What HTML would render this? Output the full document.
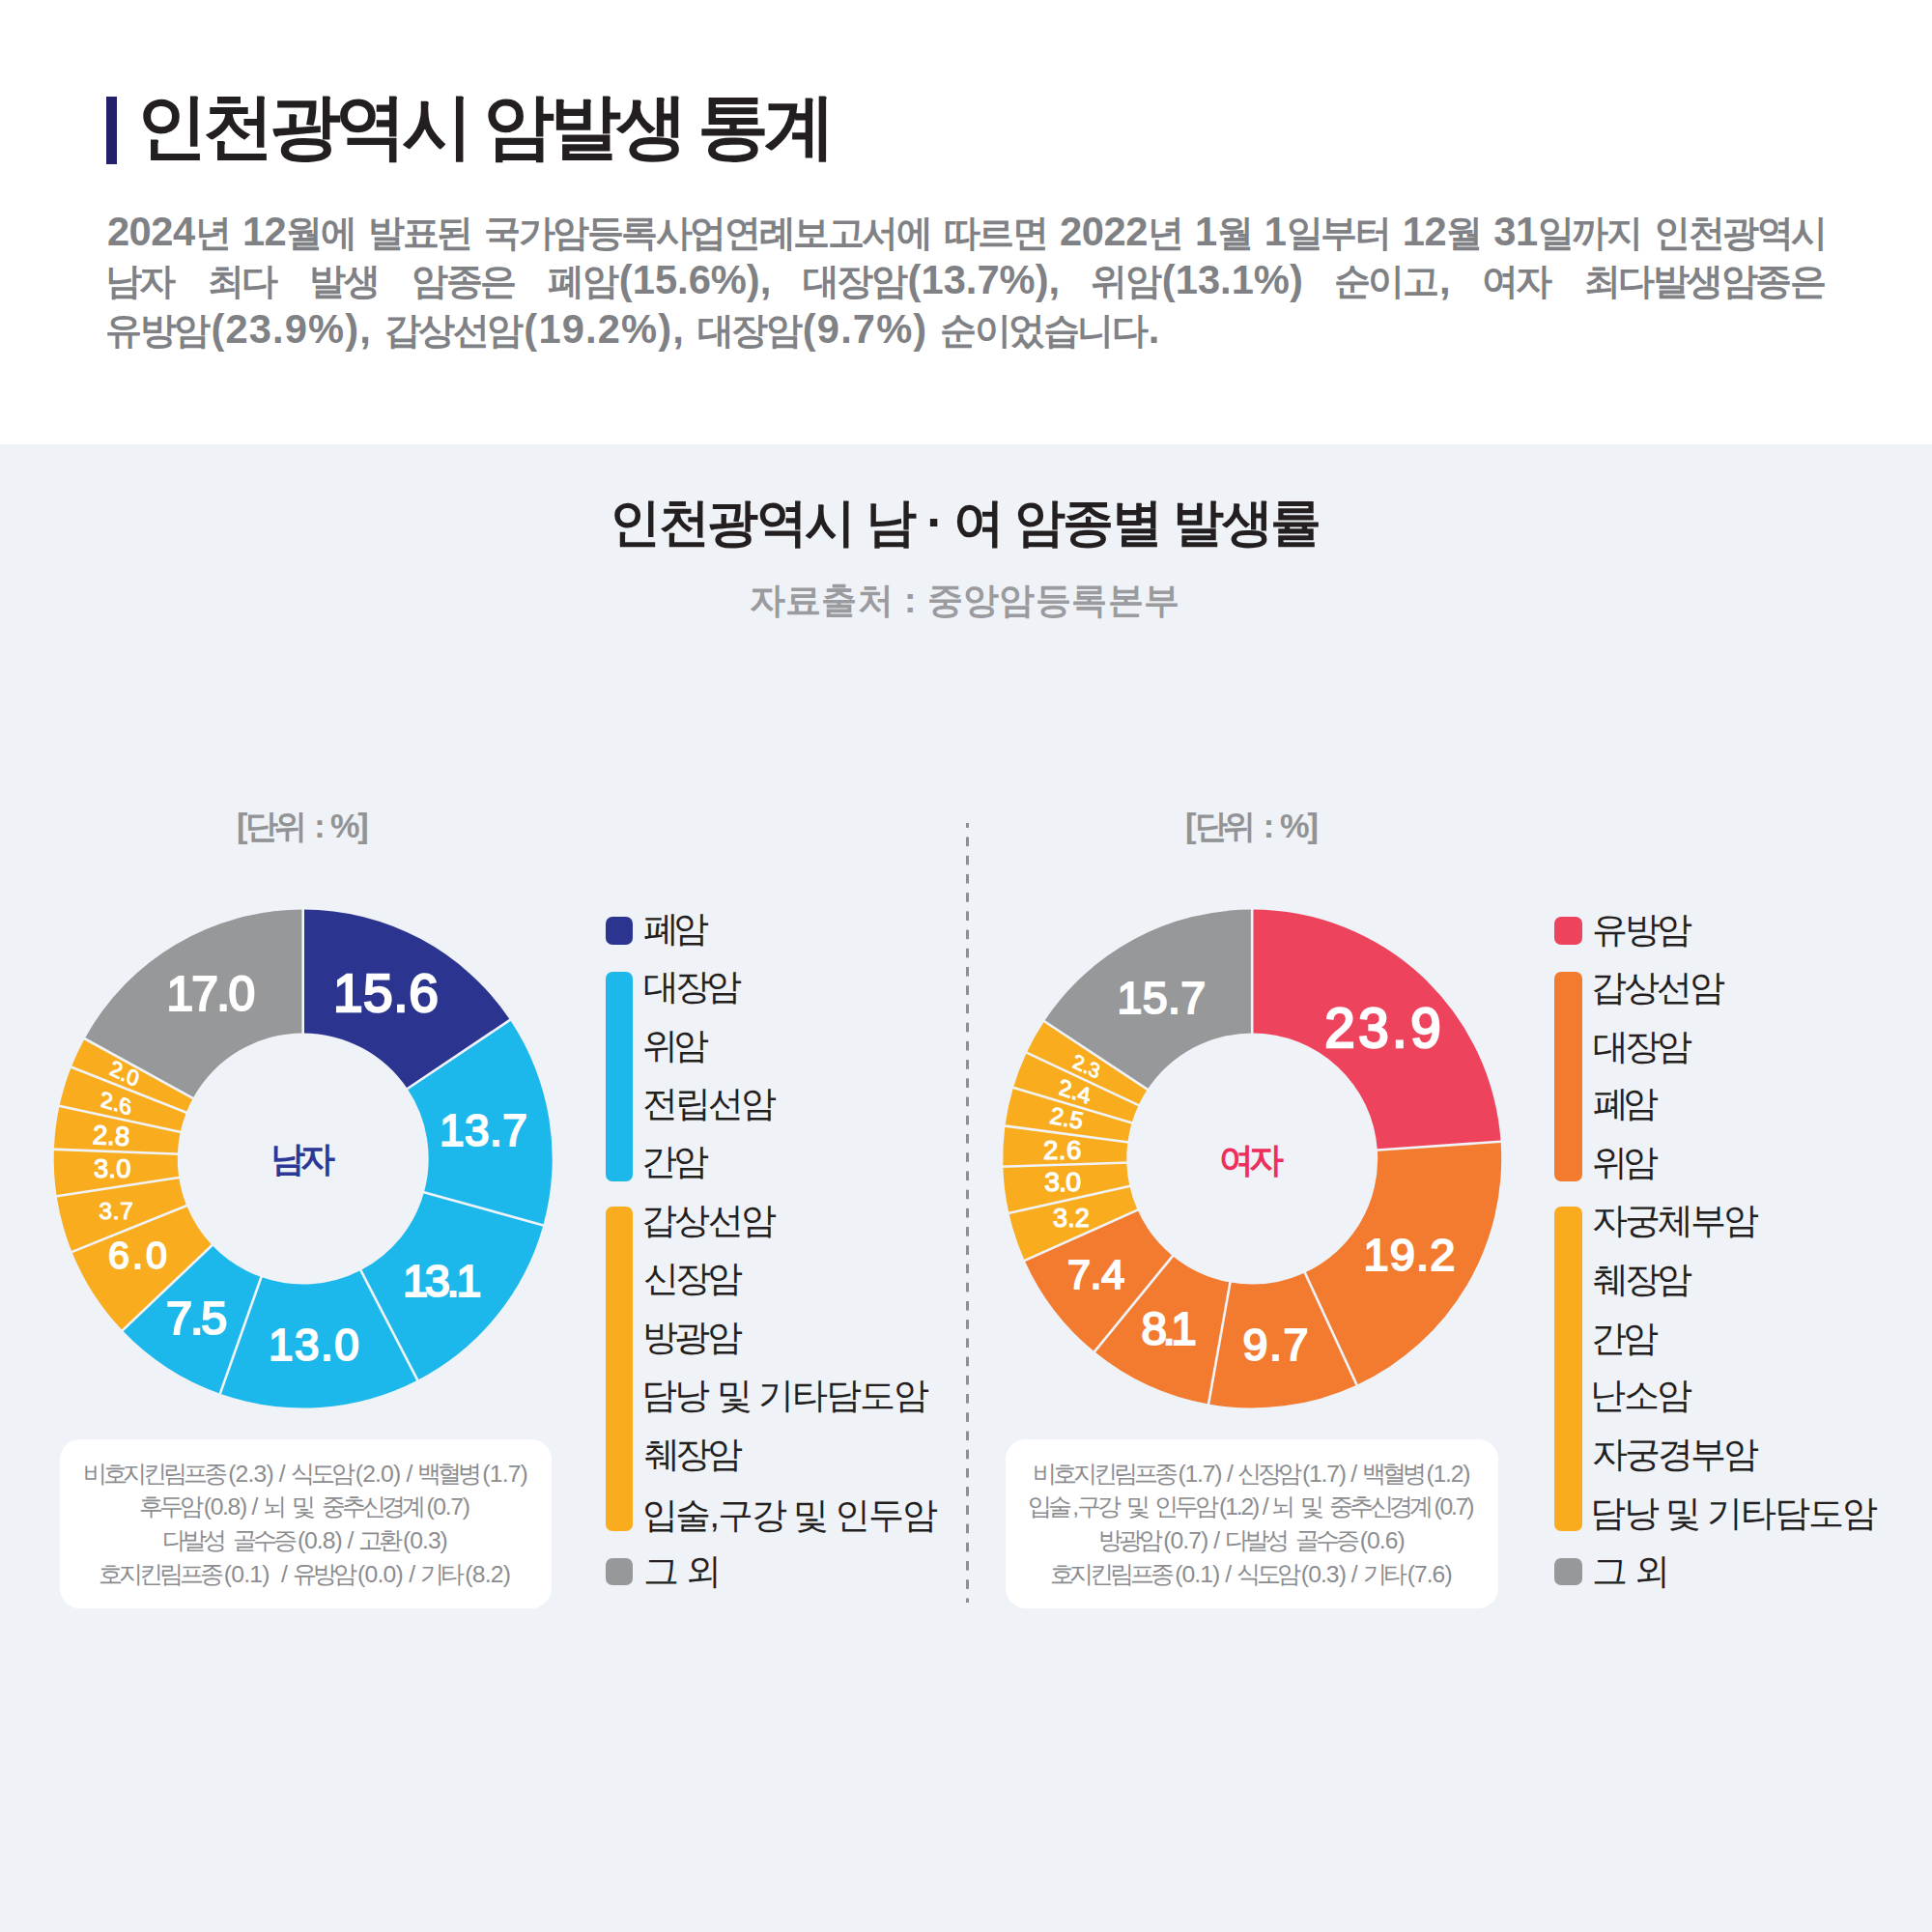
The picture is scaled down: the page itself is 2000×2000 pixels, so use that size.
<!DOCTYPE html>
<html><head><meta charset="utf-8">
<style>
*{margin:0;padding:0;box-sizing:border-box}
html,body{width:2000px;height:2000px;overflow:hidden;background:#fff}
body{position:relative;font-family:"Liberation Sans",sans-serif}
#bg{position:absolute;left:0;top:460px;width:2000px;height:1540px;background:#EFF2F7}
#bar{position:absolute;left:110px;top:100px;width:11px;height:70px;background:#231F6B}
svg{position:absolute;left:0;top:0}
.sw{position:absolute;width:28.5px;border-radius:7px}
.note{position:absolute;top:1489.7px;height:175.4px;background:#fff;border-radius:21px}
.t{position:absolute;white-space:pre;line-height:1}
</style></head><body>
<div id="bg"></div>
<div id="bar"></div>
<div style="position:absolute;left:1000.3px;top:851.5px;width:2.7px;height:807.5px;background:repeating-linear-gradient(to bottom,#8D8F92 0,#8D8F92 9.7px,transparent 9.7px,transparent 19.2275px);background-size:100% 19.2275px;background-position:0 -4.73px"></div>
<div class="sw" style="left:626.5px;top:949px;height:28.5px;background:#2B358F"></div>
<div class="sw" style="left:626.5px;top:1006px;height:216.5px;background:#1CB8EB"></div>
<div class="sw" style="left:626.5px;top:1248.5px;height:336px;background:#F9AC1D"></div>
<div class="sw" style="left:626.5px;top:1612.5px;height:28.5px;background:#97989A"></div>
<div class="sw" style="left:1609px;top:949px;height:28.5px;background:#EE435D"></div>
<div class="sw" style="left:1609px;top:1006px;height:216.5px;background:#F27B30"></div>
<div class="sw" style="left:1609px;top:1248.5px;height:336px;background:#F9AC1D"></div>
<div class="sw" style="left:1609px;top:1612.5px;height:28.5px;background:#97989A"></div>
<div class="note" style="left:61.7px;width:509.4px"></div>
<div class="note" style="left:1040.5px;width:510.2px"></div>
<svg width="2000" height="2000" viewBox="0 0 2000 2000"><g>
<path d="M313.70,941.50A258,258 0 0 1 527.99,1055.83L421.68,1127.11A130,130 0 0 0 313.70,1069.50Z" fill="#2B358F"/>
<path d="M527.99,1055.83A258,258 0 0 1 562.34,1268.36L438.98,1234.20A130,130 0 0 0 421.68,1127.11Z" fill="#1CB8EB"/>
<path d="M562.34,1268.36A258,258 0 0 1 432.27,1428.64L373.45,1314.96A130,130 0 0 0 438.98,1234.20Z" fill="#1CB8EB"/>
<path d="M432.27,1428.64A258,258 0 0 1 227.83,1442.79L270.43,1322.09A130,130 0 0 0 373.45,1314.96Z" fill="#1CB8EB"/>
<path d="M227.83,1442.79A258,258 0 0 1 126.74,1377.29L219.50,1289.08A130,130 0 0 0 270.43,1322.09Z" fill="#1CB8EB"/>
<path d="M126.74,1377.29A258,258 0 0 1 74.42,1295.98L193.13,1248.11A130,130 0 0 0 219.50,1289.08Z" fill="#F9AC1D"/>
<path d="M74.42,1295.98A258,258 0 0 1 58.63,1238.26L185.18,1219.03A130,130 0 0 0 193.13,1248.11Z" fill="#F9AC1D"/>
<path d="M58.63,1238.26A258,258 0 0 1 55.88,1189.78L183.79,1194.60A130,130 0 0 0 185.18,1219.03Z" fill="#F9AC1D"/>
<path d="M55.88,1189.78A258,258 0 0 1 61.56,1144.80L186.66,1171.94A130,130 0 0 0 183.79,1194.60Z" fill="#F9AC1D"/>
<path d="M61.56,1144.80A258,258 0 0 1 73.82,1104.52L192.83,1151.64A130,130 0 0 0 186.66,1171.94Z" fill="#F9AC1D"/>
<path d="M73.82,1104.52A258,258 0 0 1 87.61,1075.21L199.78,1136.87A130,130 0 0 0 192.83,1151.64Z" fill="#F9AC1D"/>
<path d="M87.61,1075.21A258,258 0 0 1 313.70,941.50L313.70,1069.50A130,130 0 0 0 199.78,1136.87Z" fill="#97989A"/>
<line x1="313.70" y1="1072.50" x2="313.70" y2="938.50" stroke="#F0F3F8" stroke-width="2.6"/>
<line x1="419.19" y1="1128.78" x2="530.49" y2="1054.16" stroke="#F0F3F8" stroke-width="2.6"/>
<line x1="436.09" y1="1233.40" x2="565.23" y2="1269.16" stroke="#F0F3F8" stroke-width="2.6"/>
<line x1="372.07" y1="1312.29" x2="433.65" y2="1431.30" stroke="#F0F3F8" stroke-width="2.6"/>
<line x1="271.43" y1="1319.26" x2="226.83" y2="1445.62" stroke="#F0F3F8" stroke-width="2.6"/>
<line x1="221.67" y1="1287.02" x2="124.57" y2="1379.36" stroke="#F0F3F8" stroke-width="2.6"/>
<line x1="195.91" y1="1246.99" x2="71.64" y2="1297.10" stroke="#F0F3F8" stroke-width="2.6"/>
<line x1="188.14" y1="1218.58" x2="55.66" y2="1238.71" stroke="#F0F3F8" stroke-width="2.6"/>
<line x1="186.79" y1="1194.71" x2="52.89" y2="1189.66" stroke="#F0F3F8" stroke-width="2.6"/>
<line x1="189.59" y1="1172.58" x2="58.63" y2="1144.17" stroke="#F0F3F8" stroke-width="2.6"/>
<line x1="195.62" y1="1152.75" x2="71.03" y2="1103.42" stroke="#F0F3F8" stroke-width="2.6"/>
<line x1="202.41" y1="1138.32" x2="84.98" y2="1073.76" stroke="#F0F3F8" stroke-width="2.6"/>
<path d="M1296.20,941.50A258,258 0 0 1 1553.58,1181.68L1425.89,1190.52A130,130 0 0 0 1296.20,1069.50Z" fill="#EE435D"/>
<path d="M1553.58,1181.68A258,258 0 0 1 1404.58,1433.63L1350.81,1317.47A130,130 0 0 0 1425.89,1190.52Z" fill="#F27B30"/>
<path d="M1404.58,1433.63A258,258 0 0 1 1251.04,1453.52L1273.45,1327.49A130,130 0 0 0 1350.81,1317.47Z" fill="#F27B30"/>
<path d="M1251.04,1453.52A258,258 0 0 1 1133.00,1399.32L1213.97,1300.19A130,130 0 0 0 1273.45,1327.49Z" fill="#F27B30"/>
<path d="M1133.00,1399.32A258,258 0 0 1 1060.73,1304.93L1177.55,1252.62A130,130 0 0 0 1213.97,1300.19Z" fill="#F27B30"/>
<path d="M1060.73,1304.93A258,258 0 0 1 1044.41,1255.78L1169.33,1227.86A130,130 0 0 0 1177.55,1252.62Z" fill="#F9AC1D"/>
<path d="M1044.41,1255.78A258,258 0 0 1 1038.33,1207.60L1166.26,1203.58A130,130 0 0 0 1169.33,1227.86Z" fill="#F9AC1D"/>
<path d="M1038.33,1207.60A258,258 0 0 1 1040.44,1165.56L1167.33,1182.40A130,130 0 0 0 1166.26,1203.58Z" fill="#F9AC1D"/>
<path d="M1040.44,1165.56A258,258 0 0 1 1048.90,1125.97L1171.59,1162.45A130,130 0 0 0 1167.33,1182.40Z" fill="#F9AC1D"/>
<path d="M1048.90,1125.97A258,258 0 0 1 1062.75,1089.65L1178.57,1144.15A130,130 0 0 0 1171.59,1162.45Z" fill="#F9AC1D"/>
<path d="M1062.75,1089.65A258,258 0 0 1 1081.01,1057.18L1187.77,1127.79A130,130 0 0 0 1178.57,1144.15Z" fill="#F9AC1D"/>
<path d="M1081.01,1057.18A258,258 0 0 1 1296.20,941.50L1296.20,1069.50A130,130 0 0 0 1187.77,1127.79Z" fill="#97989A"/>
<line x1="1296.20" y1="1072.50" x2="1296.20" y2="938.50" stroke="#F0F3F8" stroke-width="2.6"/>
<line x1="1422.90" y1="1190.73" x2="1556.58" y2="1181.48" stroke="#F0F3F8" stroke-width="2.6"/>
<line x1="1349.55" y1="1314.75" x2="1405.84" y2="1436.35" stroke="#F0F3F8" stroke-width="2.6"/>
<line x1="1273.97" y1="1324.54" x2="1250.52" y2="1456.47" stroke="#F0F3F8" stroke-width="2.6"/>
<line x1="1215.86" y1="1297.86" x2="1131.10" y2="1401.65" stroke="#F0F3F8" stroke-width="2.6"/>
<line x1="1180.29" y1="1251.40" x2="1057.99" y2="1306.16" stroke="#F0F3F8" stroke-width="2.6"/>
<line x1="1172.26" y1="1227.20" x2="1041.49" y2="1256.44" stroke="#F0F3F8" stroke-width="2.6"/>
<line x1="1169.26" y1="1203.49" x2="1035.33" y2="1207.70" stroke="#F0F3F8" stroke-width="2.6"/>
<line x1="1170.30" y1="1182.79" x2="1037.47" y2="1165.16" stroke="#F0F3F8" stroke-width="2.6"/>
<line x1="1174.47" y1="1163.30" x2="1046.03" y2="1125.11" stroke="#F0F3F8" stroke-width="2.6"/>
<line x1="1181.29" y1="1145.43" x2="1060.04" y2="1088.37" stroke="#F0F3F8" stroke-width="2.6"/>
<line x1="1190.27" y1="1129.44" x2="1078.51" y2="1055.52" stroke="#F0F3F8" stroke-width="2.6"/>
</g></svg>
<div class="t" id="title" style="left:141.00px;top:93.81px;font-size:73.87px;letter-spacing:-5.18px;font-weight:700;color:#231F20">인천광역시 암발생 통계</div>
<div class="t" id="p1" style="left:110.90px;top:219.21px;font-size:37.89px;letter-spacing:0.00px;font-weight:700;color:#808185"><span style="letter-spacing:-0.46px;font-size:41.68px">2024</span>년<span style="letter-spacing:-0.46px;font-size:41.68px"> 12</span><span style="letter-spacing:-2.46px">월</span>에<span style="letter-spacing:-0.46px;font-size:41.68px"> </span><span style="letter-spacing:-2.46px">발표</span>된<span style="letter-spacing:-0.46px;font-size:41.68px"> </span><span style="letter-spacing:-2.46px">국가암등록사업연례보고서</span>에<span style="letter-spacing:-0.46px;font-size:41.68px"> </span><span style="letter-spacing:-2.46px">따르</span>면<span style="letter-spacing:-0.46px;font-size:41.68px"> 2022</span>년<span style="letter-spacing:-0.46px;font-size:41.68px"> 1</span>월<span style="letter-spacing:-0.46px;font-size:41.68px"> 1</span><span style="letter-spacing:-2.46px">일부</span>터<span style="letter-spacing:-0.46px;font-size:41.68px"> 12</span>월<span style="letter-spacing:-0.46px;font-size:41.68px"> 31</span><span style="letter-spacing:-2.46px">일까</span>지<span style="letter-spacing:-0.46px;font-size:41.68px"> </span><span style="letter-spacing:-2.46px">인천광역</span>시</div>
<div class="t" id="p2" style="left:108.80px;top:269.00px;font-size:37.89px;letter-spacing:0.00px;font-weight:700;color:#808185;width:1782.0px;text-align:justify;text-align-last:justify"><span style="letter-spacing:-2.46px">남</span>자<span style="letter-spacing:0.00px;font-size:41.68px"> </span><span style="letter-spacing:-2.46px">최</span>다<span style="letter-spacing:0.00px;font-size:41.68px"> </span><span style="letter-spacing:-2.46px">발</span>생<span style="letter-spacing:0.00px;font-size:41.68px"> </span><span style="letter-spacing:-2.46px">암종</span>은<span style="letter-spacing:0.00px;font-size:41.68px"> </span><span style="letter-spacing:-2.46px">폐</span>암<span style="letter-spacing:0.00px;font-size:41.68px">(15.6%), </span><span style="letter-spacing:-2.46px">대장</span>암<span style="letter-spacing:0.00px;font-size:41.68px">(13.7%), </span><span style="letter-spacing:-2.46px">위</span>암<span style="letter-spacing:0.00px;font-size:41.68px">(13.1%) </span><span style="letter-spacing:-2.46px">순이</span>고<span style="letter-spacing:0.00px;font-size:41.68px">, </span><span style="letter-spacing:-2.46px">여</span>자<span style="letter-spacing:0.00px;font-size:41.68px"> </span><span style="letter-spacing:-2.46px">최다발생암종</span>은</div>
<div class="t" id="p3" style="left:109.30px;top:320.00px;font-size:37.89px;letter-spacing:0.00px;font-weight:700;color:#808185"><span style="letter-spacing:-2.46px">유방</span>암<span style="letter-spacing:1.14px;font-size:41.68px">(23.9%), </span><span style="letter-spacing:-2.46px">갑상선</span>암<span style="letter-spacing:1.14px;font-size:41.68px">(19.2%), </span><span style="letter-spacing:-2.46px">대장</span>암<span style="letter-spacing:1.14px;font-size:41.68px">(9.7%) </span><span style="letter-spacing:-2.46px">순이었습니</span>다<span style="letter-spacing:1.14px;font-size:41.68px">.</span></div>
<div class="t" id="ctitle" style="left:630.90px;top:515.02px;font-size:52.84px;letter-spacing:-2.37px;font-weight:700;color:#231F20">인천광역시 남 · 여 암종별 발생률</div>
<div class="t" id="csub" style="left:775.50px;top:602.58px;font-size:37.21px;letter-spacing:0.42px;font-weight:700;color:#9A9B9E">자료출처 : 중앙암등록본부</div>
<div class="t" id="unitL" style="left:245.00px;top:838.20px;font-size:34.35px;letter-spacing:0.00px;font-weight:700;color:#929395"><span style="letter-spacing:-2.13px;font-size:34.35px">[</span><span style="letter-spacing:-4.47px">단</span>위<span style="letter-spacing:-2.13px;font-size:34.35px"> : %]</span></div>
<div class="t" id="unitR" style="left:1227.00px;top:838.20px;font-size:34.35px;letter-spacing:0.00px;font-weight:700;color:#929395"><span style="letter-spacing:-1.88px;font-size:34.35px">[</span><span style="letter-spacing:-4.47px">단</span>위<span style="letter-spacing:-1.88px;font-size:34.35px"> : %]</span></div>
<div class="t" id="ctrM" style="left:279.60px;top:1183.30px;font-size:35.84px;letter-spacing:-4.90px;font-weight:700;color:#2B3896">남자</div>
<div class="t" id="ctrW" style="left:1262.00px;top:1183.50px;font-size:35.84px;letter-spacing:-4.69px;font-weight:700;color:#EE2F5E">여자</div>
<div class="t" id="L0" style="left:666.10px;top:942.70px;font-size:37.35px;letter-spacing:-5.92px;font-weight:400;color:#231F20">폐암</div>
<div class="t" id="L1" style="left:666.10px;top:1003.20px;font-size:37.35px;letter-spacing:-4.33px;font-weight:400;color:#231F20">대장암</div>
<div class="t" id="L2" style="left:665.10px;top:1063.60px;font-size:37.35px;letter-spacing:-4.94px;font-weight:400;color:#231F20">위암</div>
<div class="t" id="L3" style="left:665.10px;top:1123.50px;font-size:37.35px;letter-spacing:-3.08px;font-weight:400;color:#231F20">전립선암</div>
<div class="t" id="L4" style="left:664.10px;top:1184.00px;font-size:37.35px;letter-spacing:-3.96px;font-weight:400;color:#231F20">간암</div>
<div class="t" id="L5" style="left:664.10px;top:1244.70px;font-size:37.35px;letter-spacing:-2.75px;font-weight:400;color:#231F20">갑상선암</div>
<div class="t" id="L6" style="left:665.50px;top:1305.20px;font-size:37.35px;letter-spacing:-3.84px;font-weight:400;color:#231F20">신장암</div>
<div class="t" id="L7" style="left:664.50px;top:1366.10px;font-size:37.35px;letter-spacing:-3.36px;font-weight:400;color:#231F20">방광암</div>
<div class="t" id="L8" style="left:663.50px;top:1426.40px;font-size:37.35px;letter-spacing:-2.03px;font-weight:400;color:#231F20">담낭 및 기타담도암</div>
<div class="t" id="L9" style="left:666.50px;top:1486.80px;font-size:37.35px;letter-spacing:-4.33px;font-weight:400;color:#231F20">췌장암</div>
<div class="t" id="L10" style="left:664.50px;top:1549.50px;font-size:37.35px;letter-spacing:-2.03px;font-weight:400;color:#231F20">입술,구강 및 인두암</div>
<div class="t" id="L11" style="left:665.50px;top:1607.60px;font-size:37.35px;letter-spacing:-1.62px;font-weight:400;color:#231F20">그 외</div>
<div class="t" id="R0" style="left:1648.00px;top:943.50px;font-size:37.35px;letter-spacing:-3.44px;font-weight:400;color:#231F20">유방암</div>
<div class="t" id="R1" style="left:1647.00px;top:1004.00px;font-size:37.35px;letter-spacing:-3.15px;font-weight:400;color:#231F20">갑상선암</div>
<div class="t" id="R2" style="left:1649.00px;top:1064.90px;font-size:37.35px;letter-spacing:-3.93px;font-weight:400;color:#231F20">대장암</div>
<div class="t" id="R3" style="left:1649.00px;top:1123.90px;font-size:37.35px;letter-spacing:-5.72px;font-weight:400;color:#231F20">폐암</div>
<div class="t" id="R4" style="left:1648.00px;top:1184.80px;font-size:37.35px;letter-spacing:-4.73px;font-weight:400;color:#231F20">위암</div>
<div class="t" id="R5" style="left:1648.00px;top:1244.60px;font-size:37.35px;letter-spacing:-3.09px;font-weight:400;color:#231F20">자궁체부암</div>
<div class="t" id="R6" style="left:1649.00px;top:1305.80px;font-size:37.35px;letter-spacing:-3.83px;font-weight:400;color:#231F20">췌장암</div>
<div class="t" id="R7" style="left:1647.00px;top:1366.90px;font-size:37.35px;letter-spacing:-3.75px;font-weight:400;color:#231F20">간암</div>
<div class="t" id="R8" style="left:1646.00px;top:1426.00px;font-size:37.35px;letter-spacing:-2.36px;font-weight:400;color:#231F20">난소암</div>
<div class="t" id="R9" style="left:1648.00px;top:1487.20px;font-size:37.35px;letter-spacing:-3.09px;font-weight:400;color:#231F20">자궁경부암</div>
<div class="t" id="R10" style="left:1646.00px;top:1548.00px;font-size:37.35px;letter-spacing:-2.08px;font-weight:400;color:#231F20">담낭 및 기타담도암</div>
<div class="t" id="R11" style="left:1648.00px;top:1607.60px;font-size:37.35px;letter-spacing:-1.62px;font-weight:400;color:#231F20">그 외</div>
<div class="t" id="NL0" style="left:85.60px;top:1513.75px;font-size:24.69px;letter-spacing:0.00px;font-weight:400;color:#8B8C8F"><span style="letter-spacing:-4.07px">비호지킨림프</span>종<span style="letter-spacing:-0.83px;font-size:24.69px">(2.3) / </span><span style="letter-spacing:-4.07px">식도</span>암<span style="letter-spacing:-0.83px;font-size:24.69px">(2.0) / </span><span style="letter-spacing:-4.07px">백혈</span>병<span style="letter-spacing:-0.83px;font-size:24.69px">(1.7)</span></div>
<div class="t" id="NL1" style="left:143.90px;top:1547.75px;font-size:24.69px;letter-spacing:0.00px;font-weight:400;color:#8B8C8F"><span style="letter-spacing:-4.07px">후두</span>암<span style="letter-spacing:-1.32px;font-size:24.69px">(0.8) / </span>뇌<span style="letter-spacing:-1.32px;font-size:24.69px"> </span>및<span style="letter-spacing:-1.32px;font-size:24.69px"> </span><span style="letter-spacing:-4.07px">중추신경</span>계<span style="letter-spacing:-1.32px;font-size:24.69px">(0.7)</span></div>
<div class="t" id="NL2" style="left:168.30px;top:1582.95px;font-size:24.69px;letter-spacing:0.00px;font-weight:400;color:#8B8C8F"><span style="letter-spacing:-4.07px">다발</span>성<span style="letter-spacing:-1.01px;font-size:24.69px"> </span><span style="letter-spacing:-4.07px">골수</span>증<span style="letter-spacing:-1.01px;font-size:24.69px">(0.8) / </span><span style="letter-spacing:-4.07px">고</span>환<span style="letter-spacing:-1.01px;font-size:24.69px">(0.3)</span></div>
<div class="t" id="NL3" style="left:102.20px;top:1618.15px;font-size:24.69px;letter-spacing:0.00px;font-weight:400;color:#8B8C8F"><span style="letter-spacing:-4.07px">호지킨림프</span>종<span style="letter-spacing:-0.76px;font-size:24.69px">(0.1)  / </span><span style="letter-spacing:-4.07px">유방</span>암<span style="letter-spacing:-0.76px;font-size:24.69px">(0.0) / </span><span style="letter-spacing:-4.07px">기</span>타<span style="letter-spacing:-0.76px;font-size:24.69px">(8.2)</span></div>
<div class="t" id="NR0" style="left:1069.00px;top:1513.75px;font-size:24.69px;letter-spacing:0.00px;font-weight:400;color:#8B8C8F"><span style="letter-spacing:-4.07px">비호지킨림프</span>종<span style="letter-spacing:-1.22px;font-size:24.69px">(1.7) / </span><span style="letter-spacing:-4.07px">신장</span>암<span style="letter-spacing:-1.22px;font-size:24.69px">(1.7) / </span><span style="letter-spacing:-4.07px">백혈</span>병<span style="letter-spacing:-1.22px;font-size:24.69px">(1.2)</span></div>
<div class="t" id="NR1" style="left:1064.20px;top:1547.75px;font-size:24.69px;letter-spacing:0.00px;font-weight:400;color:#8B8C8F"><span style="letter-spacing:-4.07px">입</span>술<span style="letter-spacing:-2.15px;font-size:24.69px">,</span><span style="letter-spacing:-4.07px">구</span>강<span style="letter-spacing:-2.15px;font-size:24.69px"> </span>및<span style="letter-spacing:-2.15px;font-size:24.69px"> </span><span style="letter-spacing:-4.07px">인두</span>암<span style="letter-spacing:-2.15px;font-size:24.69px">(1.2) / </span>뇌<span style="letter-spacing:-2.15px;font-size:24.69px"> </span>및<span style="letter-spacing:-2.15px;font-size:24.69px"> </span><span style="letter-spacing:-4.07px">중추신경</span>계<span style="letter-spacing:-2.15px;font-size:24.69px">(0.7)</span></div>
<div class="t" id="NR2" style="left:1137.40px;top:1582.95px;font-size:24.69px;letter-spacing:0.00px;font-weight:400;color:#8B8C8F"><span style="letter-spacing:-4.07px">방광</span>암<span style="letter-spacing:-0.94px;font-size:24.69px">(0.7) / </span><span style="letter-spacing:-4.07px">다발</span>성<span style="letter-spacing:-0.94px;font-size:24.69px"> </span><span style="letter-spacing:-4.07px">골수</span>증<span style="letter-spacing:-0.94px;font-size:24.69px">(0.6)</span></div>
<div class="t" id="NR3" style="left:1086.50px;top:1618.15px;font-size:24.69px;letter-spacing:0.00px;font-weight:400;color:#8B8C8F"><span style="letter-spacing:-4.07px">호지킨림프</span>종<span style="letter-spacing:-0.94px;font-size:24.69px">(0.1) / </span><span style="letter-spacing:-4.07px">식도</span>암<span style="letter-spacing:-0.94px;font-size:24.69px">(0.3) / </span><span style="letter-spacing:-4.07px">기</span>타<span style="letter-spacing:-0.94px;font-size:24.69px">(7.6)</span></div>
<div class="t" id="m156" style="left:344.90px;top:1000.55px;font-size:55.08px;letter-spacing:0.60px;font-weight:400;color:#fff;-webkit-text-stroke:2.48px #fff">15.6</div>
<div class="t" id="m170" style="left:172.40px;top:1005.17px;font-size:49.71px;letter-spacing:-1.70px;font-weight:400;color:#fff;-webkit-text-stroke:2.24px #fff">17.0</div>
<div class="t" id="m137" style="left:455.00px;top:1148.05px;font-size:45.87px;letter-spacing:0.50px;font-weight:400;color:#fff;-webkit-text-stroke:2.06px #fff">13.7</div>
<div class="t" id="m131" style="left:417.00px;top:1302.73px;font-size:46.96px;letter-spacing:-3.33px;font-weight:400;color:#fff;-webkit-text-stroke:2.11px #fff">13.1</div>
<div class="t" id="m130" style="left:278.00px;top:1370.05px;font-size:45.87px;letter-spacing:1.50px;font-weight:400;color:#fff;-webkit-text-stroke:2.06px #fff">13.0</div>
<div class="t" id="m75" style="left:172.00px;top:1339.63px;font-size:48.69px;letter-spacing:-2.14px;font-weight:400;color:#fff;-webkit-text-stroke:2.19px #fff">7.5</div>
<div class="t" id="m60" style="left:112.00px;top:1280.00px;font-size:39.49px;letter-spacing:3.08px;font-weight:400;color:#fff;-webkit-text-stroke:1.78px #fff">6.0</div>
<div class="t" id="m37" style="left:102.50px;top:1242.00px;font-size:24.17px;letter-spacing:0.82px;font-weight:400;color:#fff;-webkit-text-stroke:1.09px #fff">3.7</div>
<div class="t" id="m30" style="left:97.00px;top:1196.33px;font-size:27.25px;letter-spacing:0.20px;font-weight:400;color:#fff;-webkit-text-stroke:1.23px #fff">3.0</div>
<div class="t" id="w239" style="left:1371.30px;top:1036.85px;font-size:56.47px;letter-spacing:3.45px;font-weight:400;color:#fff;-webkit-text-stroke:2.54px #fff">23.9</div>
<div class="t" id="w157" style="left:1156.50px;top:1010.41px;font-size:46.51px;letter-spacing:0.39px;font-weight:400;color:#fff;-webkit-text-stroke:2.09px #fff">15.7</div>
<div class="t" id="w192" style="left:1411.40px;top:1275.93px;font-size:46.96px;letter-spacing:1.20px;font-weight:400;color:#fff;-webkit-text-stroke:2.11px #fff">19.2</div>
<div class="t" id="w97" style="left:1286.50px;top:1369.31px;font-size:46.51px;letter-spacing:1.58px;font-weight:400;color:#fff;-webkit-text-stroke:2.09px #fff">9.7</div>
<div class="t" id="w81" style="left:1181.50px;top:1352.45px;font-size:47.61px;letter-spacing:-4.51px;font-weight:400;color:#fff;-webkit-text-stroke:2.14px #fff">8.1</div>
<div class="t" id="w74" style="left:1104.90px;top:1298.06px;font-size:43.14px;letter-spacing:-0.31px;font-weight:400;color:#fff;-webkit-text-stroke:1.94px #fff">7.4</div>
<div class="t" id="w32" style="left:1090.10px;top:1248.01px;font-size:27.00px;letter-spacing:0.12px;font-weight:400;color:#fff;-webkit-text-stroke:1.22px #fff">3.2</div>
<div class="t" id="w30" style="left:1081.30px;top:1208.90px;font-size:28.39px;letter-spacing:-0.89px;font-weight:400;color:#fff;-webkit-text-stroke:1.28px #fff">3.0</div>
<div class="t" id="w26" style="left:1080.00px;top:1176.94px;font-size:27.59px;letter-spacing:0.44px;font-weight:400;color:#fff;-webkit-text-stroke:1.24px #fff">2.6</div>
<div class="t" id="m28" style="left:96.30px;top:1161.57px;font-size:27.50px;letter-spacing:0.00px;font-weight:400;color:#fff;-webkit-text-stroke:1.24px #fff;transform:rotate(3deg);transform-origin:50% 50%">2.8</div>
<div class="t" id="m26" style="left:104.20px;top:1131.12px;font-size:23.20px;letter-spacing:0.00px;font-weight:400;color:#fff;-webkit-text-stroke:1.04px #fff;transform:rotate(4deg) skewY(13deg);transform-origin:50% 50%">2.6</div>
<div class="t" id="m20" style="left:113.20px;top:1100.82px;font-size:22.50px;letter-spacing:0.00px;font-weight:400;color:#fff;-webkit-text-stroke:1.01px #fff;transform:rotate(17deg) skewY(9deg);transform-origin:50% 50%">2.0</div>
<div class="t" id="w25" style="left:1086.80px;top:1146.31px;font-size:24.60px;letter-spacing:0.00px;font-weight:400;color:#fff;-webkit-text-stroke:1.11px #fff;transform:rotate(11deg);transform-origin:50% 50%">2.5</div>
<div class="t" id="w24" style="left:1096.00px;top:1118.85px;font-size:23.70px;letter-spacing:0.00px;font-weight:400;color:#fff;-webkit-text-stroke:1.07px #fff;transform:rotate(8deg) skewY(11deg);transform-origin:50% 50%">2.4</div>
<div class="t" id="w23" style="left:1110.00px;top:1094.37px;font-size:20.90px;letter-spacing:0.00px;font-weight:400;color:#fff;-webkit-text-stroke:0.94px #fff;transform:rotate(15deg) skewY(10deg);transform-origin:50% 50%">2.3</div>
</body></html>
